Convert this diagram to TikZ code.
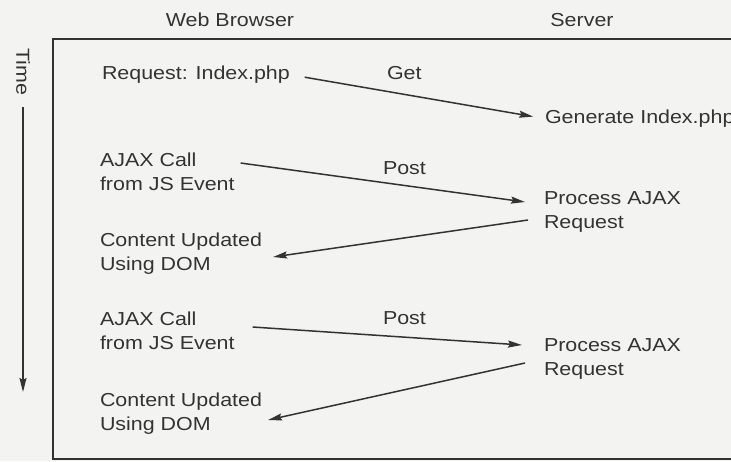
\documentclass[tikz,border=0pt]{standalone}
\usepackage{fontspec}
\setmainfont{Liberation Sans}[FakeStretch=1.14]
\usetikzlibrary{arrows.meta}
\definecolor{ink}{HTML}{333333}
\definecolor{paper}{HTML}{F3F3F1}
\begin{document}
\begin{tikzpicture}[x=1pt,y=-1pt,
  lbl/.style={inner sep=0pt,outer sep=0pt,text=ink,font=\fontsize{18.8}{24}\selectfont},
  ml/.style={lbl,align=left,anchor=north west},
  arr/.style={draw=ink,line width=1.5pt,-{Stealth[length=14pt,width=7pt,inset=2pt]}},
  frame/.style={draw=ink,line width=1.3pt}]
\fill[paper] (0,0) rectangle (731,461);
\useasboundingbox (0,0) rectangle (731,461);
% frame
\draw[frame] (732,39) -- (53,39) -- (53,459) -- (732,459);
% headers
\node[lbl,anchor=base] (wb) at (230,26.5) {Web Browser};
\node[lbl,anchor=base] (sv) at (582,26.5) {Server};
% time axis
\node[lbl,rotate=-90] (time) at (23,71.5) {Time};
\coordinate (t0) at (23,107);
\coordinate (t1) at (23,392);
\draw[arr] (t0) -- (t1);
% labels
\node[lbl,anchor=base west] (req) at (102,79.5) {Request: Index.php};
\node[lbl,anchor=base west] (get) at (387,79.5) {Get};
\node[lbl,anchor=base west] (gen) at (545,123.5) {Generate Index.php};
\node[ml] (aj1) at (100,153) {AJAX Call\\from JS Event};
\node[lbl,anchor=base west] (post1) at (383,174.5) {Post};
\node[ml] (pr1) at (544,192) {Process AJAX\\Request};
\node[ml] (cu1) at (100,233) {Content Updated\\Using DOM};
\node[ml] (aj2) at (100,311.5) {AJAX Call\\from JS Event};
\node[lbl,anchor=base west] (post2) at (383,324.5) {Post};
\node[ml] (pr2) at (544,339) {Process AJAX\\Request};
\node[ml] (cu2) at (100,393) {Content Updated\\Using DOM};
% connectors
\draw[arr,shorten <=15pt,shorten >=12pt] (req.east) -- (gen.west);
\draw[arr] ([xshift=6pt,yshift=-10pt]aj1.north east) -- ([xshift=-19pt,yshift=-10pt]pr1.north west);
\draw[arr] ([xshift=-16pt,yshift=-28pt]pr1.north west) -- ([xshift=11pt,yshift=-24pt]cu1.north east);
\draw[arr] ([xshift=18pt,yshift=-15.5pt]aj2.north east) -- ([xshift=-22pt,yshift=-6pt]pr2.north west);
\draw[arr] ([xshift=-19pt,yshift=-24pt]pr2.north west) -- ([xshift=6pt,yshift=-27pt]cu2.north east);
\end{tikzpicture}
\end{document}
